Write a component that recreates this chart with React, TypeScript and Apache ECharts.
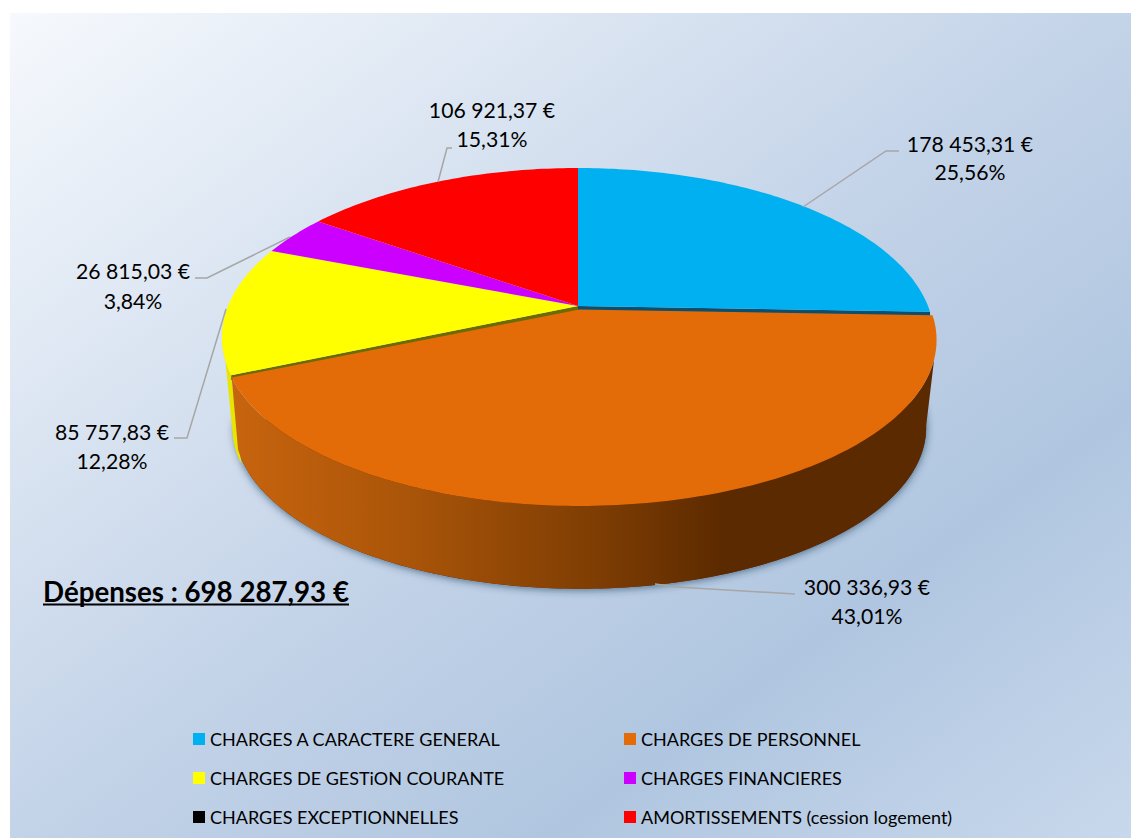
import React, { useEffect, useRef } from "react";
import * as echarts from "echarts";

const categories = [
  "CHARGES A CARACTERE GENERAL",
  "CHARGES DE PERSONNEL",
  "CHARGES DE GESTiON COURANTE",
  "CHARGES FINANCIERES",
  "CHARGES EXCEPTIONNELLES",
  "AMORTISSEMENTS (cession logement)",
];
const values = [178453.31, 300336.93, 85757.83, 26815.03, 3.46, 106921.37];
const colors = ["#00b0f0", "#e36c09", "#ffff00", "#cc00ff", "#000000", "#ff0000"];
const drawOrder = [0, 2, 3, 4, 5, 1];

const total = values.reduce((a, b) => a + b, 0);
const group3 = (s: string) => s.replace(/\B(?=(\d{3})+(?!\d))/g, " ");
const money = (v: number) => {
  const [i, d] = v.toFixed(2).split(".");
  return `${group3(i)},${d} €`;
};
const pct = (v: number) => `${((v / total) * 100).toFixed(2).replace(".", ",")}%`;

const K = 0.1835;
const mainTop = { cx: 578, cy: 306, a: 350, b: 163.3 };
const explodedTop = { cx: 579.5, cy: 309.5, a: 351, b: 160.4 };
const baseRim = { cx: 580.5, cy: 398, a: 351 * 0.968, b: 160.9 * 0.968 };
const yellowBase = { ...baseRim, cx: 578 };

type Rim = { cx: number; cy: number; a: number; b: number };
const rad = (d: number) => (d * Math.PI) / 180;
const proj = (r: Rim, deg: number): [number, number] => {
  const s = Math.sin(rad(deg));
  const c = Math.cos(rad(deg));
  const w = 1 + K * c;
  return [r.cx + (r.a * s) / w, r.cy - (r.b * c) / w];
};
const arc = (r: Rim, from: number, to: number): [number, number][] => {
  const n = Math.max(2, Math.ceil(Math.abs(to - from)));
  const pts: [number, number][] = [];
  for (let i = 0; i <= n; i++) pts.push(proj(r, from + ((to - from) * i) / n));
  return pts;
};

const leaders: ([number, number][] | null)[] = [
  [[803, 207], [886, 151], [899, 151]],
  [[655, 584], [677, 587], [795, 594]],
  [[226, 309], [187, 438], [174, 438]],
  [[290, 237], [207, 278], [195, 278]],
  null,
  [[438, 182], [447, 148], [452, 148]],
];
const labelPos: ([number, number, number] | null)[] = [
  [970, 144, 172],
  [867, 587, 616],
  [112, 432, 461],
  [133, 271, 301],
  null,
  [492, 110, 139],
];

const LABEL_FONT = "Lato";

const startAngles: number[] = [];
values.reduce((acc, v, i) => {
  startAngles[i] = acc;
  return acc + (v / total) * 360;
}, 0);

const sliceRender = (idx: number) => (_params: any, api: any) => {
  const start = startAngles[idx];
  const end = start + (api.value(0) / total) * 360;
  const kids: any[] = [];
  const color = colors[idx];
  const top = idx === 1 ? explodedTop : mainTop;

  if (idx === 0) {
    kids.push({
      type: "polygon",
      shape: { points: arc(baseRim, 92, 262) },
      style: {
        fill: "#5c2a00",
        shadowBlur: 9,
        shadowColor: "rgba(25,45,75,0.65)",
        shadowOffsetX: 0,
        shadowOffsetY: 1,
      },
    });
  }
  if (idx === 1) {
    kids.push({
      type: "polygon",
      shape: {
        points: [...arc(top, 107, end), ...arc(baseRim, end + 5, 100)],
      },
      style: {
        fill: {
          type: "linear",
          x: 0,
          y: 0,
          x2: 1,
          y2: 0,
          colorStops: [
            { offset: 0, color: "#c8640e" },
            { offset: 0.25, color: "#aa5509" },
            { offset: 0.52, color: "#7e3d03" },
            { offset: 0.7, color: "#5c2a00" },
            { offset: 1, color: "#5c2a00" },
          ],
        },
      },
    });
  }
  if (idx === 2) {
    kids.push({
      type: "polygon",
      shape: { points: [...arc(top, 262, start), ...arc(yellowBase, start, 258)] },
      style: { fill: "#e6e600" },
    });
    const tip = proj(top, start);
    kids.push({
      type: "polygon",
      shape: {
        points: [
          [top.cx, top.cy],
          tip,
          [tip[0], tip[1] + 5],
          [top.cx, top.cy + 5],
        ],
      },
      style: { fill: "#6b6b00" },
    });
  }
  if (idx === 0) {
    const tip = proj(top, end);
    kids.push({
      type: "polygon",
      shape: {
        points: [
          [top.cx, top.cy],
          tip,
          [tip[0], tip[1] + 5],
          [top.cx, top.cy + 5],
        ],
      },
      style: { fill: "#0b4e6e" },
    });
  }
  kids.push({
    type: "polygon",
    shape: { points: [[top.cx, top.cy], ...arc(top, start, end)] },
    style: { fill: color },
  });

  const lead = leaders[idx];
  if (lead) {
    kids.push({
      type: "polyline",
      shape: { points: lead },
      style: { stroke: "#a6a6a6", lineWidth: 1.5, fill: "none" },
    });
  }
  const pos = labelPos[idx];
  if (pos) {
    const font = `400 21.2px ${LABEL_FONT}`;
    kids.push({
      type: "text",
      style: { text: money(values[idx]), x: pos[0], y: pos[1], textAlign: "center", textVerticalAlign: "middle", font, fill: "#000" },
    });
    kids.push({
      type: "text",
      style: { text: pct(values[idx]), x: pos[0], y: pos[2], textAlign: "center", textVerticalAlign: "middle", font, fill: "#000" },
    });
  }
  return { type: "group", children: kids };
};

const legendPos = [
  [193, 730],
  [624, 730],
  [193, 769],
  [624, 769],
  [193, 808],
  [624, 808],
];

export default function App() {
  const ref = useRef<HTMLDivElement>(null);
  useEffect(() => {
    document.body.style.margin = "0";
    const chart = echarts.init(ref.current!, undefined, { renderer: "svg" });
    chart.setOption({
      animation: false,
      backgroundColor: "#ffffff",
      graphic: [
        {
          type: "rect",
          silent: true,
          shape: { x: 10, y: 13, width: 1121, height: 825 },
          style: {
            fill: {
              type: "linear",
              x: 0,
              y: 0,
              x2: 1,
              y2: 1,
              colorStops: [
                { offset: 0, color: "#f6f9fd" },
                { offset: 0.5, color: "#c3d3e8" },
                { offset: 0.74, color: "#b0c6e0" },
                { offset: 1, color: "#c8d8ec" },
              ],
            },
          },
        },
        {
          type: "text",
          z: 10,
          style: {
            text: `Dépenses : ${money(total)}`,
            x: 43,
            y: 591,
            textVerticalAlign: "middle",
            font: "700 27.7px Lato",
            fill: "#000",
          },
        },
        {
          type: "line",
          z: 10,
          shape: { x1: 43, y1: 604.5, x2: 349, y2: 604.5 },
          style: { stroke: "#000", lineWidth: 2 },
        },
      ],
      legend: categories.map((name, i) => ({
        data: [name],
        left: legendPos[i][0],
        top: legendPos[i][1],
        padding: 0,
        itemWidth: 12,
        itemHeight: 12,
        icon: "rect",
        selectedMode: false,
        textStyle: { fontFamily: "Lato", fontSize: 18, color: "#000" },
      })),
      series: drawOrder.map((idx) => ({
        type: "custom",
        name: categories[idx],
        coordinateSystem: "none",
        silent: true,
        itemStyle: { color: colors[idx] },
        data: [[values[idx]]],
        renderItem: sliceRender(idx),
      })),
    });
    return () => chart.dispose();
  }, []);
  return <div ref={ref} style={{ width: 1131, height: 838 }} />;
}
